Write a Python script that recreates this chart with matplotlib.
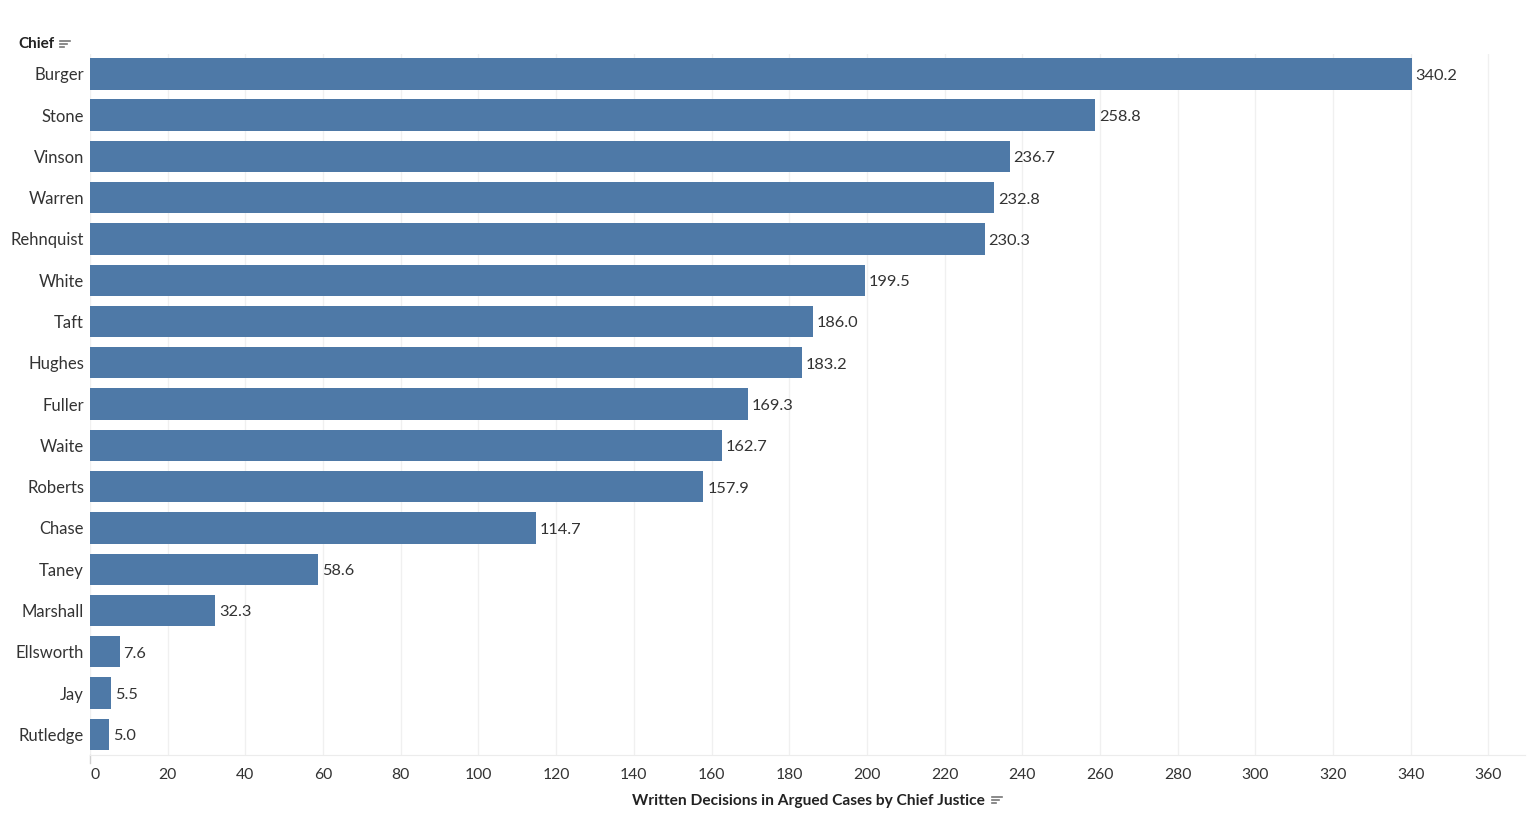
import matplotlib.pyplot as plt
from matplotlib.lines import Line2D
from matplotlib.transforms import offset_copy

chiefs = ["Burger", "Stone", "Vinson", "Warren", "Rehnquist", "White", "Taft",
          "Hughes", "Fuller", "Waite", "Roberts", "Chase", "Taney", "Marshall",
          "Ellsworth", "Jay", "Rutledge"]
decisions = [340.2, 258.8, 236.7, 232.8, 230.3, 199.5, 186.0, 183.2, 169.3,
             162.7, 157.9, 114.7, 58.6, 32.3, 7.6, 5.5, 5.0]
xticks = list(range(0, 361, 20))

plt.rcParams['font.family'] = ['Lato', 'DejaVu Sans']
blue = "#4e79a7"
txt = "#333333"

fig = plt.figure(figsize=(15.29, 8.21), dpi=100)
ax = fig.add_axes([90 / 1529, 1 - 755 / 821, 1435 / 1529, 701 / 821])

pos = list(range(len(chiefs)))
ax.barh(pos, decisions, height=0.76, color=blue, zorder=2)
ax.set_ylim(len(chiefs) - 0.5, -0.48)
ax.set_xlim(0, 369.4)

for p, v in zip(pos, decisions):
    ax.annotate(f"{v:.1f}", (v, p), xytext=(2.9, -1.4), textcoords="offset points",
                ha="left", va="center", fontsize=11.8, color=txt)

ax.set_yticks(pos)
ax.set_yticklabels(chiefs, fontsize=12, color=txt)
for t in ax.get_yticklabels():
    t.set_transform(offset_copy(t.get_transform(), fig=fig, x=0, y=-1, units="dots"))
ax.set_xticks(xticks)
ax.set_xticklabels([str(t) for t in xticks], fontsize=11.3, color=txt)
ax.tick_params(axis="y", length=0, pad=4.3)
ax.tick_params(axis="x", length=0, pad=9)
lbl0 = ax.get_xticklabels()[0]
lbl0.set_transform(offset_copy(lbl0.get_transform(), fig=fig, x=5, y=0, units="dots"))

ax.grid(axis="x", color="#f0f0f0", linewidth=1, zorder=0)
for s in ["top", "right", "left"]:
    ax.spines[s].set_visible(False)
ax.spines["bottom"].set_color("#ececec")

# zero tick stub
ax.add_line(Line2D([0, 0], [0, -0.012], transform=ax.transAxes, color="#d0d0d0",
                   lw=1, clip_on=False))

fig.text(18 / 1529, 1 - 44 / 821, "Chief", fontsize=11, fontweight="bold",
         color="#222222", va="center", ha="left")
fig.text(808 / 1529, 1 - 801 / 821, "Written Decisions in Argued Cases by Chief Justice",
         fontsize=11.2, fontweight="bold", color="#222222", va="center", ha="center")


def sort_icon(x, y):
    # small descending-bars sort glyph, x/y in pixels from top-left
    for i, w in enumerate([10, 7, 4]):
        yy = 1 - (y + i * 3) / 821
        fig.add_artist(Line2D([x / 1529, (x + w) / 1529], [yy, yy], color="#777777", lw=1.2))


sort_icon(60, 41)
sort_icon(992, 797)

fig.savefig("out.png", dpi=100)
